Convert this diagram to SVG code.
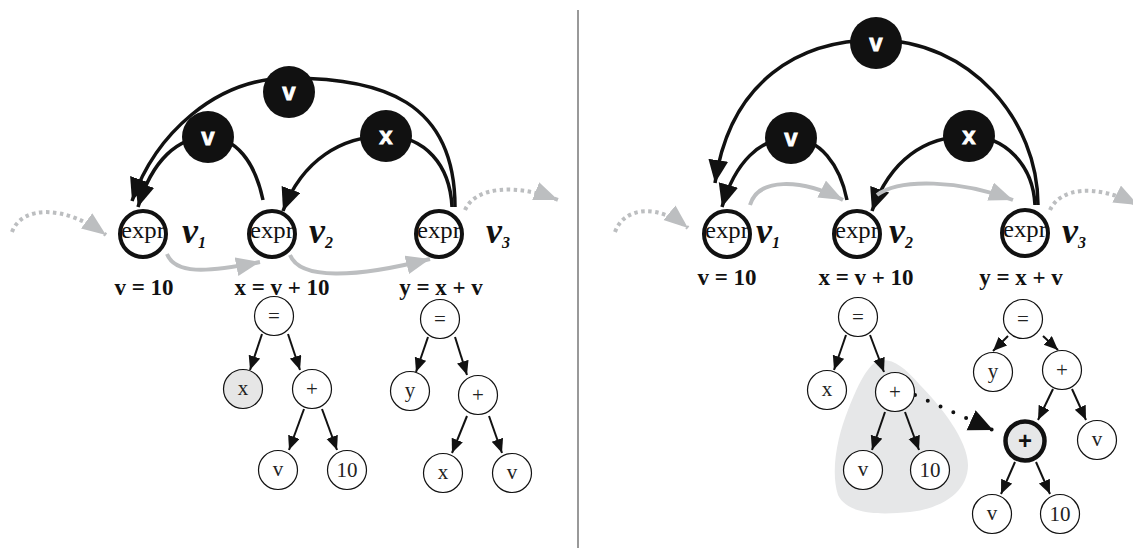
<svg xmlns="http://www.w3.org/2000/svg" width="1133" height="550" viewBox="0 0 1133 550">
  <style>
    .expr { fill: #fff; stroke: #111; stroke-width: 4; }
    .exprt { font-family: "Liberation Serif", serif; font-size: 23px; fill: #111; text-anchor: middle; }
    .vlab { font-family: "Liberation Serif", serif; font-size: 36px; font-weight: bold; font-style: italic; fill: #111; }
    .vsub { font-size: 16px; }
    .stmt { font-family: "Liberation Serif", serif; font-size: 23px; font-weight: bold; fill: #111; text-anchor: middle; }
    .tag { fill: #111; }
    .tagt { font-family: "Liberation Sans", sans-serif; font-size: 24px; font-weight: bold; fill: #fff; stroke: #fff; stroke-width: 0.8; text-anchor: middle; }
    .tn { fill: #fff; stroke: #111; stroke-width: 1.2; }
    .tnt { font-family: "Liberation Serif", serif; font-size: 21px; fill: #222; text-anchor: middle; }
    .dep { fill: none; stroke: #111; stroke-width: 3.5; marker-end: url(#bigHead); }
    .flow { fill: none; stroke: #bcbec0; stroke-width: 4; marker-end: url(#grayHead); }
    .dots { fill: none; stroke: #bcbec0; stroke-width: 4; stroke-dasharray: 3.5 3.5; marker-end: url(#grayHead); }
    .edge { fill: none; stroke: #111; stroke-width: 2; marker-end: url(#smallHead); }
  </style>
  <defs>
    <marker id="bigHead" markerUnits="userSpaceOnUse" markerWidth="26" markerHeight="22" refX="23" refY="10" orient="auto">
      <path d="M0,0 L23,10 L0,20 Z" fill="#111"/>
    </marker>
    <marker id="grayHead" markerUnits="userSpaceOnUse" markerWidth="26" markerHeight="22" refX="24" refY="9.5" orient="auto">
      <path d="M0,0 L24,9.5 L0,19 Z" fill="#bcbec0"/>
    </marker>
    <marker id="smallHead" markerUnits="userSpaceOnUse" markerWidth="16" markerHeight="14" refX="14" refY="6" orient="auto">
      <path d="M0,0 L14,6 L0,12 Z" fill="#111"/>
    </marker>
    <marker id="moveHead" markerUnits="userSpaceOnUse" markerWidth="26" markerHeight="24" refX="24" refY="11" orient="auto">
      <path d="M0,0 L24,11 L0,22 Z" fill="#111"/>
    </marker>
  </defs>

  <rect width="1133" height="550" fill="#fff"/>

  <!-- panel divider -->
  <line x1="578" y1="10" x2="578" y2="548" stroke="#777" stroke-width="1.5"/>

  <!-- shaded sub-expression region -->
  <path id="subexpr-region" d="M883,360 C870,360 860,380 848,410 C838,435 830,470 838,495 C848,515 880,515 910,512 C945,508 968,490 968,465 C968,440 940,405 920,385 C905,368 895,360 883,360 Z" fill="#e6e7e8"/>

  <g id="connectors">
    <!-- left panel: dependence arcs -->
    <path class="dep" d="M455,207 C455,100 380,78 290,78 C215,78 155,135 132,201"/>
    <path class="dep" d="M263,200 C255,162 236,137 208,137 C178,137 152,160 138,207"/>
    <path class="dep" d="M452,207 C450,165 425,136 386,136 C342,136 302,160 283,211"/>
    <!-- left panel: control flow -->
    <path class="dots" d="M12,232 C22,205 65,205 106,235"/>
    <path class="flow" d="M167,254 C175,274 205,273 260,262"/>
    <path class="flow" d="M290,255 C300,280 355,278 430,259"/>
    <path class="dots" d="M465,210 C475,187 515,183 558,200"/>

    <!-- right panel: dependence arcs -->
    <path class="dep" d="M1038,205 C1038,120 970,40 876,40 C800,40 730,80 715,183"/>
    <path class="dep" d="M847,200 C840,165 820,138 791,138 C760,138 735,162 722,207"/>
    <path class="dep" d="M1035,205 C1033,165 1005,136 969,136 C925,136 890,160 872,211"/>
    <!-- right panel: control flow -->
    <path class="dots" d="M615,232 C625,205 660,205 688,228"/>
    <path class="flow" d="M750,205 C758,178 800,178 843,200"/>
    <path class="flow" d="M877,195 C900,178 960,180 1013,200"/>
    <path class="dots" d="M1050,210 C1060,188 1095,183 1138,205"/>

    <!-- left trees -->
    <path class="edge" d="M262,334 L250,370"/>
    <path class="edge" d="M288,334 L300,370"/>
    <path class="edge" d="M304,409 L289,450"/>
    <path class="edge" d="M322,409 L337,450"/>
    <path class="edge" d="M428,337 L416,372"/>
    <path class="edge" d="M455,337 L467,375"/>
    <path class="edge" d="M467,416 L452,453"/>
    <path class="edge" d="M489,416 L502,453"/>

    <!-- right trees -->
    <path class="edge" d="M846,335 L834,370"/>
    <path class="edge" d="M870,335 L884,372"/>
    <path class="edge" d="M885,412 L872,450"/>
    <path class="edge" d="M905,412 L919,450"/>
    <path class="edge" d="M1008,336 L993,351"/>
    <path class="edge" d="M1043,336 L1058,350"/>
    <path class="edge" d="M1053,389 L1038,420"/>
    <path class="edge" d="M1072,389 L1086,420"/>
    <path class="edge" d="M1015,462 L1001,494"/>
    <path class="edge" d="M1036,462 L1050,494"/>

    <!-- moved sub-expression -->
    <path d="M915,395 L993,430" fill="none" stroke="#111" stroke-width="4" stroke-linecap="round" stroke-dasharray="0 14" marker-end="url(#moveHead)"/>
  </g>

  <!-- ===== left panel ===== -->
  <g id="L-v1">
    <circle class="expr" cx="143" cy="234" r="23"/>
    <text class="exprt" x="143" y="238" textLength="44" lengthAdjust="spacingAndGlyphs">expr</text>
    <text class="vlab" x="182" y="243">v<tspan class="vsub" dy="5">1</tspan></text>
    <text class="stmt" x="144" y="295">v = 10</text>
  </g>
  <g id="L-v2">
    <circle class="expr" cx="272" cy="234" r="23"/>
    <text class="exprt" x="272" y="238" textLength="44" lengthAdjust="spacingAndGlyphs">expr</text>
    <text class="vlab" x="309" y="243">v<tspan class="vsub" dy="5">2</tspan></text>
    <text class="stmt" x="282" y="295">x = v + 10</text>
  </g>
  <g id="L-v3">
    <circle class="expr" cx="439" cy="234" r="23"/>
    <text class="exprt" x="439" y="238" textLength="44" lengthAdjust="spacingAndGlyphs">expr</text>
    <text class="vlab" x="486" y="243">v<tspan class="vsub" dy="5">3</tspan></text>
    <text class="stmt" x="441" y="295">y = x + v</text>
  </g>
  <g id="L-tag-v-outer">
    <circle class="tag" cx="289" cy="92" r="26"/>
    <text class="tagt" x="289" y="100">v</text>
  </g>
  <g id="L-tag-v-inner">
    <circle class="tag" cx="208" cy="137" r="26"/>
    <text class="tagt" x="208" y="145">v</text>
  </g>
  <g id="L-tag-x">
    <circle class="tag" cx="386" cy="136" r="26"/>
    <text class="tagt" x="386" y="144">x</text>
  </g>

  <g id="L-tree1">
    <circle class="tn" cx="274" cy="316" r="19.5"/><text class="tnt" x="274" y="323">=</text>
    <circle class="tn" cx="243" cy="389" r="19.5" style="fill:#e6e6e6"/><text class="tnt" x="243" y="395">x</text>
    <circle class="tn" cx="312" cy="389" r="19.5"/><text class="tnt" x="312" y="396">+</text>
    <circle class="tn" cx="278" cy="470" r="19.5"/><text class="tnt" x="278" y="476">v</text>
    <circle class="tn" cx="347" cy="470" r="19.5"/><text class="tnt" x="347" y="477">10</text>
  </g>
  <g id="L-tree2">
    <circle class="tn" cx="440" cy="319" r="19.5"/><text class="tnt" x="440" y="326">=</text>
    <circle class="tn" cx="410" cy="391" r="19.5"/><text class="tnt" x="410" y="397">y</text>
    <circle class="tn" cx="478" cy="395" r="19.5"/><text class="tnt" x="478" y="402">+</text>
    <circle class="tn" cx="443" cy="473" r="19.5"/><text class="tnt" x="443" y="479">x</text>
    <circle class="tn" cx="512" cy="473" r="19.5"/><text class="tnt" x="512" y="479">v</text>
  </g>

  <!-- ===== right panel ===== -->
  <g id="R-v1">
    <circle class="expr" cx="727" cy="234" r="23"/>
    <text class="exprt" x="727" y="238" textLength="44" lengthAdjust="spacingAndGlyphs">expr</text>
    <text class="vlab" x="756" y="243">v<tspan class="vsub" dy="5">1</tspan></text>
    <text class="stmt" x="727" y="285">v = 10</text>
  </g>
  <g id="R-v2">
    <circle class="expr" cx="857" cy="234" r="23"/>
    <text class="exprt" x="857" y="238" textLength="44" lengthAdjust="spacingAndGlyphs">expr</text>
    <text class="vlab" x="889" y="243">v<tspan class="vsub" dy="5">2</tspan></text>
    <text class="stmt" x="866" y="285">x = v + 10</text>
  </g>
  <g id="R-v3">
    <circle class="expr" cx="1025" cy="233" r="23"/>
    <text class="exprt" x="1025" y="237" textLength="44" lengthAdjust="spacingAndGlyphs">expr</text>
    <text class="vlab" x="1062" y="243">v<tspan class="vsub" dy="5">3</tspan></text>
    <text class="stmt" x="1021" y="285">y = x + v</text>
  </g>
  <g id="R-tag-v-outer">
    <circle class="tag" cx="876" cy="43" r="26"/>
    <text class="tagt" x="876" y="51">v</text>
  </g>
  <g id="R-tag-v-inner">
    <circle class="tag" cx="791" cy="138" r="26"/>
    <text class="tagt" x="791" y="146">v</text>
  </g>
  <g id="R-tag-x">
    <circle class="tag" cx="969" cy="136" r="26"/>
    <text class="tagt" x="969" y="144">x</text>
  </g>

  <g id="R-tree1">
    <circle class="tn" cx="858" cy="317" r="19.5"/><text class="tnt" x="858" y="324">=</text>
    <circle class="tn" cx="827" cy="390" r="19.5"/><text class="tnt" x="827" y="396">x</text>
    <circle class="tn" cx="895" cy="392" r="19.5"/><text class="tnt" x="895" y="399">+</text>
    <circle class="tn" cx="863" cy="470" r="19.5"/><text class="tnt" x="863" y="476">v</text>
    <circle class="tn" cx="930" cy="470" r="19.5"/><text class="tnt" x="930" y="477">10</text>
  </g>
  <g id="R-tree2">
    <circle class="tn" cx="1023" cy="319" r="19.5"/><text class="tnt" x="1023" y="326">=</text>
    <circle class="tn" cx="993" cy="372" r="19.5"/><text class="tnt" x="993" y="378">y</text>
    <circle class="tn" cx="1062" cy="370" r="19.5"/><text class="tnt" x="1062" y="377">+</text>
    <circle cx="1025" cy="441" r="19.5" fill="#e6e7e8" stroke="#111" stroke-width="4.5"/>
    <text x="1025" y="449" font-family="Liberation Sans, sans-serif" font-size="24" font-weight="bold" fill="#111" text-anchor="middle">+</text>
    <circle class="tn" cx="1097" cy="440" r="19.5"/><text class="tnt" x="1097" y="446">v</text>
    <circle class="tn" cx="992" cy="514" r="19.5"/><text class="tnt" x="992" y="520">v</text>
    <circle class="tn" cx="1060" cy="514" r="19.5"/><text class="tnt" x="1060" y="521">10</text>
  </g>
</svg>
